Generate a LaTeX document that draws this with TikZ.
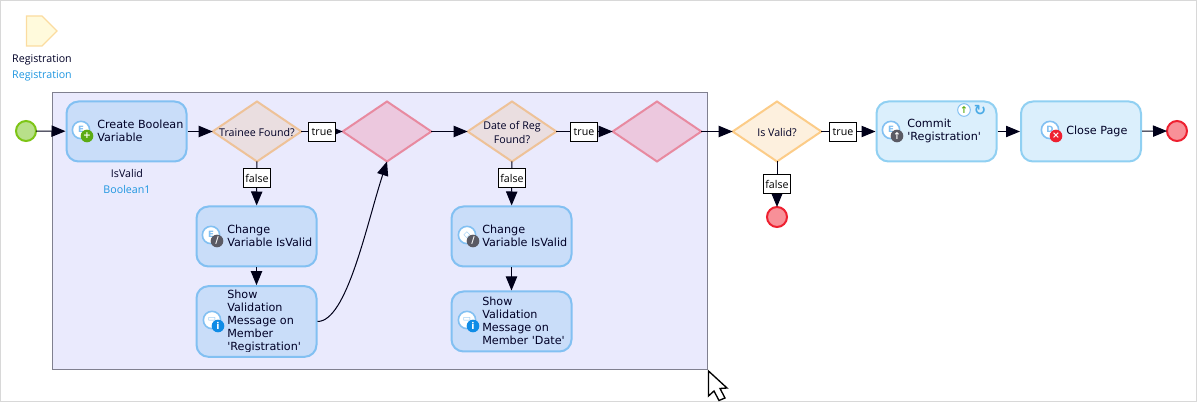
\documentclass[tikz,border=0pt]{standalone}
\usepackage{fontspec}
\setmainfont{Open Sans}
\newfontfamily\boxfont{DejaVu Sans}
\usetikzlibrary{arrows.meta,shapes.geometric}
\definecolor{framegray}{HTML}{D8D8D8}
\definecolor{loopfill}{HTML}{EAEAFD}
\definecolor{loopline}{HTML}{80808F}
\definecolor{actfill}{HTML}{C9DDF9}
\definecolor{actline}{HTML}{82C0F2}
\definecolor{clientfill}{HTML}{DBEFFC}
\definecolor{clientline}{HTML}{90D0F2}
\definecolor{decfill}{HTML}{EADEE0}
\definecolor{decline}{HTML}{EEC298}
\definecolor{validfill}{HTML}{FDF0DE}
\definecolor{validline}{HTML}{FCCC88}
\definecolor{mergefill}{HTML}{ECC8DE}
\definecolor{mergeline}{HTML}{E88AA0}
\definecolor{startfill}{HTML}{B8E08A}
\definecolor{startline}{HTML}{7DC516}
\definecolor{stopfill}{HTML}{F89098}
\definecolor{stopline}{HTML}{EE2030}
\definecolor{paramfill}{HTML}{FFFADC}
\definecolor{paramline}{HTML}{FBDCA0}
\definecolor{linkblue}{HTML}{1E96E0}
\definecolor{badgegreen}{HTML}{5CAB14}
\definecolor{badgegray}{HTML}{5A5A64}
\definecolor{badgeblue}{HTML}{0F8CE6}
\definecolor{badgered}{HTML}{EE2030}
\tikzset{
  action/.style={draw=actline, fill=actfill, line width=1.5pt, rounded corners=9pt, minimum width=90pt, minimum height=45pt, inner sep=0},
  clientact/.style={action, draw=clientline, fill=clientfill},
  decision/.style={diamond, draw=decline, fill=decfill, line width=1.5pt, aspect=1.48, minimum width=66.5pt, minimum height=45pt, inner sep=0, outer sep=0},
  validdec/.style={decision, draw=validline, fill=validfill},
  merge/.style={decision, draw=mergeline, fill=mergefill},
  startev/.style={circle, draw=startline, fill=startfill, line width=1.5pt, minimum size=15pt, inner sep=0, outer sep=0},
  stopev/.style={circle, draw=stopline, fill=stopfill, line width=1.5pt, minimum size=15pt, inner sep=0, outer sep=0},
  boxtext/.style={font=\boxfont\fontsize{8.4}{9.75}\selectfont, text=black!85!blue, align=left, anchor=west, inner sep=0},
  labeltext/.style={font=\fontsize{8}{10.5}\selectfont, text=black!85!blue, align=center, inner sep=0},
  linktext/.style={labeltext, text=linkblue},
  branch/.style={draw=black, fill=white, line width=0.75pt, font=\fontsize{8}{9}\selectfont, minimum width=20pt, minimum height=14.5pt, inner sep=0},
  flow/.style={line width=0.75pt, -{Triangle[length=10.5pt,width=8.5pt]}, black!90!blue},
  iconring/.style={circle, draw=actline, fill=white, line width=1.2pt, minimum size=13pt, inner sep=0, font=\boxfont\bfseries\fontsize{6.5}{6.5}\selectfont, text=actline},
  iconbadge/.style={circle, minimum size=9.5pt, inner sep=0, text=white, font=\boxfont\bfseries\fontsize{7}{7}\selectfont},
}
\newcommand{\actionicon}[5]{%
\begin{scope}[shift={(#2)}]
\node [iconring] (#1ring) at (0, 0) {\raisebox{1pt}{#3}\hspace{2pt}};
\node [iconbadge, fill=#4] (#1badge) at (6, 6) {#5};
\end{scope}}
\begin{document}
\begin{tikzpicture}[x=0.75pt, y=-0.75pt]
\useasboundingbox (0, 0) rectangle (1197, 402);
\draw [framegray, line width=0.75pt] (0.5, 0.5) rectangle (1196.5, 401.5);
% parameter
\draw [draw=paramline, fill=paramfill, line width=1pt] (26.5, 16) -- (42, 16) -- (57, 31) -- (42, 46) -- (26.5, 46) -- cycle;
\node [labeltext] (paramname) at (42, 59.5) {Registration};
\node [linktext] (paramtype) at (42, 75.5) {Registration};
% loop
\node [draw=loopline, fill=loopfill, line width=0.75pt, minimum width=491.25pt, minimum height=207.75pt, inner sep=0] (loop) at (379.5, 231) {};
% activities
\node [startev] (start) at (26, 131) {};
\node [action] (create) at (126.5, 131.5) {};
\node [decision, label={[labeltext, yshift=-0.5pt]center:Trainee Found?}] (trainee) at (257, 131.5) {};
\node [merge] (mergea) at (387, 131.5) {};
\node [decision, label={[labeltext, yshift=-0.5pt]center:{Date of Reg\\Found?}}] (datereg) at (512, 131.5) {};
\node [merge] (mergeb) at (657, 131.5) {};
\node [validdec, label={[labeltext, yshift=-0.5pt]center:Is Valid?}] (isvalid) at (777, 131.5) {};
\node [clientact] (commit) at (936.5, 131.5) {};
\node [clientact] (close) at (1081, 131.5) {};
\node [stopev] (stop) at (1177, 131) {};
\node [stopev] (stopfalse) at (777, 217) {};
\node [action] (changea) at (256.5, 236.5) {};
\node [action, minimum height=53pt] (showa) at (256.5, 321.5) {};
\node [action] (changeb) at (511.5, 236.5) {};
\node [action] (showb) at (511.5, 321.5) {};
% connectors
\draw [flow] (start) -- (create);
\draw [flow] (create) -- (trainee);
\draw [flow] (trainee) -- (mergea);
\draw [flow] (trainee) -- (changea);
\draw [flow] (changea) -- (showa);
\draw [flow] (showa.east) to [out=0, in=-108, out distance=22pt, in distance=50pt] (mergea.south);
\draw [flow] (mergea) -- (datereg);
\draw [flow] (datereg) -- (mergeb);
\draw [flow] (datereg) -- (changeb);
\draw [flow] (changeb) -- (showb);
\draw [flow] (mergeb) -- (isvalid);
\draw [flow] (isvalid) -- (commit);
\draw [flow] (isvalid) -- (stopfalse);
\draw [flow] (commit) -- (close);
\draw [flow] (close) -- (stop);
% branch labels
\node [branch] (truea) at (322, 132) {true};
\node [branch] (falsea) at (257, 178) {false};
\node [branch] (trueb) at (584, 132) {true};
\node [branch] (falseb) at (512, 178) {false};
\node [branch] (truec) at (843, 132) {true};
\node [branch] (falsec) at (777, 184) {false};
% texts
\node [labeltext] (varname) at (127, 174) {IsValid};
\node [linktext] (vartype) at (127, 190) {Boolean1};
\node [boxtext] (createtext) at (97, 130.8) {Create Boolean\\Variable};
\node [boxtext] (changeatext) at (227, 235.8) {Change\\Variable IsValid};
\begin{scope}
\clip (196, 286) rectangle (317, 351.5);
\node [boxtext] (showatext) at (227, 321.3) {Show\\Validation\\Message on\\Member\\'Registration'};
\end{scope}
\node [boxtext] (changebtext) at (482, 235.8) {Change\\Variable IsValid};
\node [boxtext] (showbtext) at (482, 321.3) {Show\\Validation\\Message on\\Member 'Date'};
\node [boxtext] (committext) at (907, 130.8) {Commit\\'Registration'};
\node [boxtext] (closetext) at (1066, 131.5) {Close Page};
% icons
\actionicon{create}{81, 130}{E}{badgegreen}{+}
\actionicon{changea}{211, 235}{E}{badgegray}{/}
\actionicon{showa}{212, 320}{▭}{badgeblue}{i}
\actionicon{changeb}{467, 235}{◇}{badgegray}{/}
\actionicon{showb}{467, 320}{▭}{badgeblue}{i}
\actionicon{commit}{891, 130}{E}{badgegray}{↑}
\actionicon{close}{1050, 130}{D}{badgered}{×}
\node [circle, draw=actline, fill=white, line width=0.75pt, minimum size=9.5pt, inner sep=0, text=badgegreen, font=\boxfont\bfseries\fontsize{7}{7}\selectfont] (commitup) at (964, 110) {↑};
\node [inner sep=0, text=linkblue!80, font=\boxfont\bfseries\fontsize{11}{11}\selectfont] (commitsync) at (980, 110) {↻};
% cursor
\draw [draw=black, fill=white, line width=1pt, line join=miter] (708.5, 371) -- (708.5, 396) -- (714, 391) -- (719, 400.5) -- (725, 398) -- (720, 388.5) -- (727, 388) -- cycle;
\end{tikzpicture}
\end{document}
